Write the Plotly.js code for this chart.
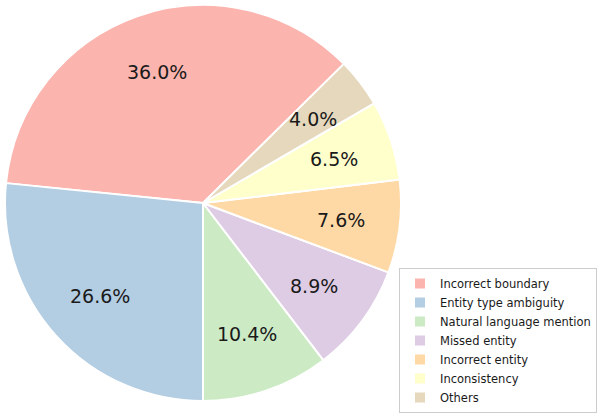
<!DOCTYPE html>
<html>
<head>
<meta charset="utf-8">
<script src="https://cdn.plot.ly/plotly-3.0.1.min.js"></script>
<style>
  html, body { margin: 0; padding: 0; background: #fff; }
  #chart { width: 600px; height: 419px; }
</style>
</head>
<body>
<div id="chart"></div>
<script>
const categories = [
  "Incorrect boundary",
  "Entity type ambiguity",
  "Natural language mention",
  "Missed entity",
  "Incorrect entity",
  "Inconsistency",
  "Others"
];
const shares = [36.0, 26.6, 10.4, 8.9, 7.6, 6.5, 4.0];
const sliceColors = ["#fbb4ae", "#b3cde3", "#ccebc5", "#decbe4", "#fed9a6", "#ffffcc", "#e5d8bd"];

const W = 600, H = 419;
const cx = 203, cy = 203, R = 198;   // pie centre / radius in px

// slice 2 starts straight down; walk back to get where slice 1 starts
const total = shares.reduce((a, b) => a + b, 0);
const startDeg = 270 + 360 * shares.slice(2).reduce((a, b) => a + b, 0) / total - 360;
// plotly (ccw): the first slice ends at `rotation` (clockwise from 12 o'clock)
const split12 = startDeg + 360 * shares[0] / total;

const pie = {
  type: "pie",
  labels: categories,
  values: shares,
  sort: false,
  direction: "counterclockwise",
  rotation: 90 - split12,
  marker: { colors: sliceColors, line: { color: "#fff", width: 2 } },
  textinfo: "none",
  hoverinfo: "label+percent",
  domain: { x: [(cx - R) / W, (cx + R) / W], y: [(H - cy - R) / H, (H - cy + R) / H] }
};

// percent labels at 0.7 R along each slice's middle angle
const annotations = [];
let a0 = startDeg;
shares.forEach(v => {
  const span = 360 * v / total;
  const mid = (a0 + span / 2) * Math.PI / 180;
  annotations.push({
    xref: "paper", yref: "paper",
    x: (cx + 0.7 * R * Math.cos(mid)) / W,
    y: (H - cy + 0.7 * R * Math.sin(mid)) / H,
    text: v.toFixed(1) + "%",
    showarrow: false,
    xanchor: "center", yanchor: "middle",
    font: { family: "DejaVu Sans", size: 19, color: "#1a1a1a" }
  });
  a0 += span;
});

const layout = {
  width: W,
  height: H,
  margin: { l: 0, r: 0, t: 0, b: 0 },
  paper_bgcolor: "#fff",
  showlegend: true,
  annotations: annotations,
  legend: {
    x: 597 / W, xanchor: "right",
    y: 6 / H, yanchor: "bottom",
    bgcolor: "#fff",
    bordercolor: "#ccc",
    borderwidth: 1,
    font: { family: "DejaVu Sans", size: 11.5, color: "#1a1a1a" },
    tracegroupgap: 0
  }
};

Plotly.newPlot("chart", [pie], layout, { displayModeBar: false });
</script>
</body>
</html>
